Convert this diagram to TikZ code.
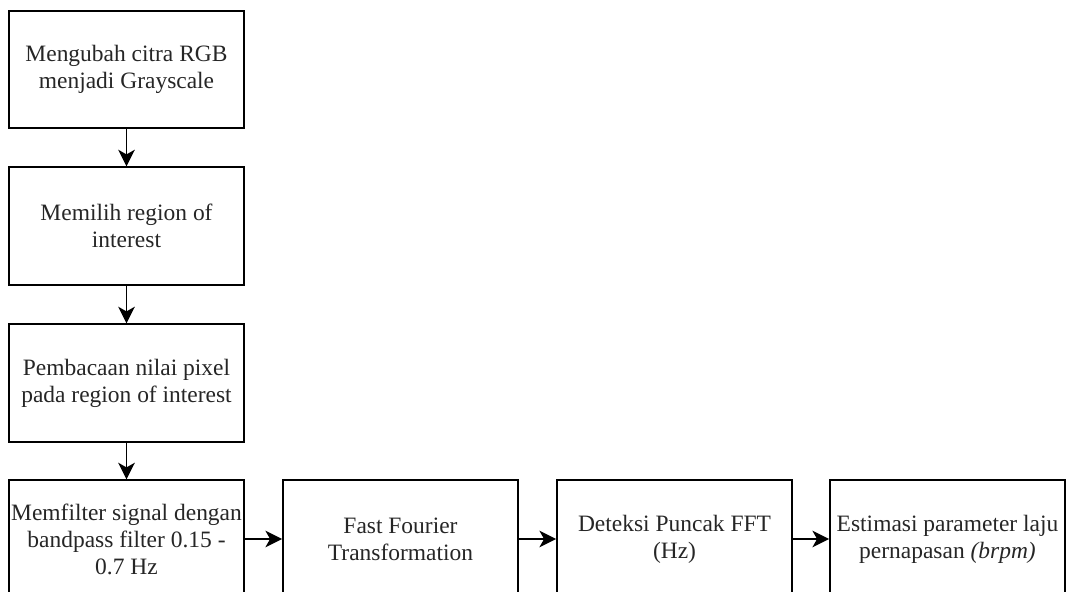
\documentclass[tikz,border=0pt]{standalone}
\usepackage{fontspec}
\setmainfont{Liberation Serif}
\usetikzlibrary{arrows.meta}
\begin{document}
\begin{tikzpicture}[x=0.75pt,y=-0.75pt,
  stepbox/.style={draw=black,line width=1.4pt,minimum width=176.25pt,minimum height=88pt,inner sep=0pt,align=center,font=\fontsize{17.6pt}{20.3pt}\selectfont,text=black!85},
  conn/.style={draw=black,line width=1.3pt,-{Stealth[length=12.5pt,width=12.5pt,inset=3.5pt]}}]
\useasboundingbox (0,0) rectangle (1067,592);
\clip (0,0) rectangle (1067,592);
\node[stepbox] (a) at (126.5,69.5) {Mengubah citra RGB\\menjadi Grayscale};
\node[stepbox] (b) at (126.5,226) {Memilih region of\\interest};
\node[stepbox] (c) at (126.5,383) {Pembacaan nilai pixel\\pada region of interest};
\node[stepbox] (d) at (126.5,539) {Memfilter signal dengan\\bandpass filter 0.15 -\\0.7 Hz};
\node[stepbox] (e) at (400.5,539) {Fast Fourier\\Transformation};
\node[stepbox] (f) at (674.5,539) {Deteksi Puncak FFT\\(Hz)};
\node[stepbox] (g) at (947.5,539) {Estimasi parameter laju\\pernapasan \textit{(brpm)}};
\draw[conn] (a) -- (b);
\draw[conn] (b) -- (c);
\draw[conn] (c) -- (d);
\draw[conn] (d) -- (e);
\draw[conn] (e) -- (f);
\draw[conn] (f) -- (g);
\end{tikzpicture}
\end{document}
